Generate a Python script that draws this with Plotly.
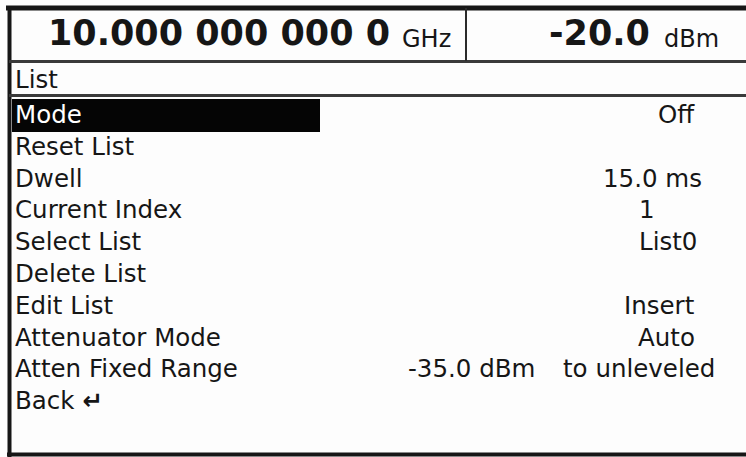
import plotly.graph_objects as go

# Instrument display contents
freq_value = "10.000 000 000 0"
freq_unit = "GHz"
level_value = "-20.0"
level_unit = "dBm"
menu_title = "List"
menu_items = ["Mode", "Reset List", "Dwell", "Current Index", "Select List",
              "Delete List", "Edit List", "Attenuator Mode", "Atten Fixed Range", "Back <b>\u21b5</b>"]
menu_values = ["Off", "", "15.0 ms", "1", "List0", "", "Insert", "Auto", "to unleveled", ""]
range_low = "-35.0 dBm"
selected_row = 0

# Layout (pixels, screen is 746x457)
W, H = 746, 457
ROW0, ROW_STEP = 114.5, 31.8
INK = "#161616"
MENU_FONT = dict(family="DejaVu Sans", size=24.5, color=INK)
# anchor and x of each value column entry
value_pos = [("right", 697), None, ("right", 704), ("center", 647), ("right", 699),
             None, ("right", 697), ("right", 697), ("right", 717), None]

fig = go.Figure()
fig.add_trace(go.Scatter(x=[0, W], y=[0, H], mode="markers", marker=dict(opacity=0),
                         hoverinfo="skip", showlegend=False))

shapes = [
    dict(type="line", x0=6, x1=W, y0=8, y1=8, line=dict(color=INK, width=5)),
    dict(type="line", x0=9.5, x1=9.5, y0=6, y1=457, line=dict(color=INK, width=4)),
    dict(type="line", x0=7, x1=W, y0=454.5, y1=454.5, line=dict(color=INK, width=4)),
    dict(type="line", x0=9, x1=W, y0=61.5, y1=61.5, line=dict(color="#3a3a3a", width=3)),
    dict(type="line", x0=9, x1=W, y0=95.5, y1=95.5, line=dict(color="#3a3a3a", width=3)),
    dict(type="line", x0=466, x1=466, y0=8, y1=61, line=dict(color="#2a2a2a", width=2)),
]
sel_y = ROW0 + selected_row * ROW_STEP
shapes.append(dict(type="rect", x0=12, x1=320, y0=sel_y - 15.5, y1=sel_y + 17.5,
                   fillcolor="#050505", line=dict(width=0), layer="below"))

ann = []
big = dict(family="DejaVu Sans", size=35, color=INK, weight="bold")
unit = dict(family="DejaVu Sans", size=24, color=INK)
ann.append(dict(x=392, y=33, text=f"<b>{freq_value}</b>", xanchor="right", yanchor="middle", font=big))
ann.append(dict(x=400, y=39, text=freq_unit, xanchor="left", yanchor="middle", font=unit))
ann.append(dict(x=652, y=33, text=f"<b>{level_value}</b>", xanchor="right", yanchor="middle", font=big))
ann.append(dict(x=662, y=39, text=level_unit, xanchor="left", yanchor="middle", font=unit))
ann.append(dict(x=13, y=79, text=menu_title, xanchor="left", yanchor="middle", font=MENU_FONT))

for i, label in enumerate(menu_items):
    y = ROW0 + i * ROW_STEP
    color = "white" if i == selected_row else INK
    ann.append(dict(x=13, y=y, text=label, xanchor="left", yanchor="middle",
                    font=dict(MENU_FONT, color=color)))
    if menu_values[i]:
        anchor, x = value_pos[i]
        ann.append(dict(x=x, y=y, text=menu_values[i], xanchor=anchor, yanchor="middle", font=MENU_FONT))
ann.append(dict(x=537, y=ROW0 + 8 * ROW_STEP, text=range_low, xanchor="right", yanchor="middle",
                font=MENU_FONT))

for a in ann:
    a.update(showarrow=False, xref="x", yref="y")

fig.update_layout(
    width=W, height=H,
    margin=dict(l=0, r=0, t=0, b=0),
    paper_bgcolor="#fdfdfd", plot_bgcolor="#fdfdfd",
    xaxis=dict(range=[0, W], visible=False, fixedrange=True),
    yaxis=dict(range=[H, 0], visible=False, fixedrange=True),
    shapes=shapes, annotations=ann,
    showlegend=False,
)
fig.write_html("out.html", config=dict(displayModeBar=False),
               post_script="document.body.style.margin='0';")
